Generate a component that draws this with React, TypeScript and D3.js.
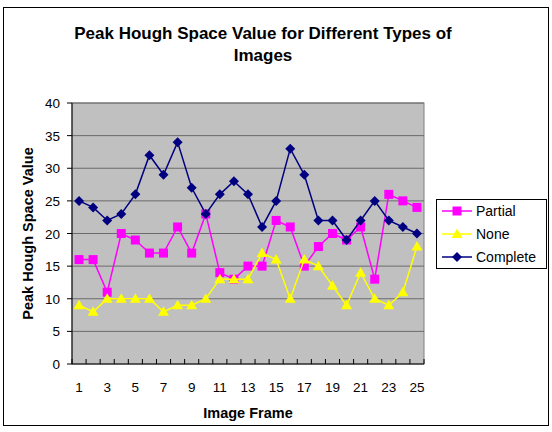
import React from "react";
import * as d3 from "d3";

const frames = d3.range(1, 26);
const partial = [16, 16, 11, 20, 19, 17, 17, 21, 17, 23, 14, 13, 15, 15, 22, 21, 15, 18, 20, 19, 21, 13, 26, 25, 24];
const none = [9, 8, 10, 10, 10, 10, 8, 9, 9, 10, 13, 13, 13, 17, 16, 10, 16, 15, 12, 9, 14, 10, 9, 11, 18];
const complete = [25, 24, 22, 23, 26, 32, 29, 34, 27, 23, 26, 28, 26, 21, 25, 33, 29, 22, 22, 19, 22, 25, 22, 21, 20];
const yTicks = [0, 5, 10, 15, 20, 25, 30, 35, 40];
const xLabels = [1, 3, 5, 7, 9, 11, 13, 15, 17, 19, 21, 23, 25];

const series = [
  { name: "Partial", values: partial, color: "#FF00FF", marker: "square" },
  { name: "None", values: none, color: "#FFFF00", marker: "triangle" },
  { name: "Complete", values: complete, color: "#000080", marker: "diamond" },
];

const font = "'Liberation Sans', Arial, sans-serif";

function Marker({ type, x, y, color }: { type: string; x: number; y: number; color: string }) {
  if (type === "square") return <rect x={x - 4.5} y={y - 4.5} width={9} height={9} fill={color} />;
  if (type === "triangle")
    return <path d={`M${x},${y - 5.5}L${x + 5.5},${y + 4}L${x - 5.5},${y + 4}Z`} fill={color} />;
  return <path d={`M${x},${y - 5}L${x + 5},${y}L${x},${y + 5}L${x - 5},${y}Z`} fill={color} />;
}

export default function App() {
  const W = 552, H = 432;
  const left = 72, right = 424, top = 103, bottom = 364;
  const x = d3.scaleBand<number>().domain(frames).range([left, right]);
  const y = d3.scaleLinear().domain([0, 40]).range([bottom, top]);
  const cx = (f: number) => (x(f) as number) + x.bandwidth() / 2;
  const line = d3.line<number>().x((_, i) => cx(frames[i])).y((v) => y(v));

  return (
    <svg width={W} height={H} style={{ position: "absolute", left: 0, top: 0 }} fontFamily={font}>
      <rect x={0} y={0} width={W} height={H} fill="#fff" />
      <rect x={3.5} y={7.5} width={545} height={418} fill="#fff" stroke="#000" strokeWidth={1} />
      <text x={263} y={39} textAnchor="middle" fontSize={17} fontWeight="bold">
        Peak Hough Space Value for Different Types of
      </text>
      <text x={263} y={61} textAnchor="middle" fontSize={17} fontWeight="bold">
        Images
      </text>
      <rect x={left} y={top} width={right - left} height={bottom - top} fill="#C0C0C0" stroke="#808080" />
      {yTicks.map((t) => (
        <g key={t}>
          {t > 0 && <line x1={left} x2={right} y1={y(t)} y2={y(t)} stroke="#6b6b6b" strokeWidth={1} />}
          <line x1={left - 5} x2={left} y1={y(t)} y2={y(t)} stroke="#000" />
          <text x={left - 12} y={y(t) + 5} textAnchor="end" fontSize={13.5}>
            {t}
          </text>
        </g>
      ))}
      <line x1={left} x2={left} y1={top} y2={bottom} stroke="#000" />
      <line x1={left} x2={right} y1={bottom} y2={bottom} stroke="#000" />
      {frames.concat([26]).map((f, i) => {
        const xx = left + i * x.step();
        return <line key={f} x1={xx} x2={xx} y1={bottom} y2={bottom - 5} stroke="#000" />;
      })}
      {xLabels.map((f) => (
        <text key={f} x={cx(f)} y={bottom + 28} textAnchor="middle" fontSize={13.5}>
          {f}
        </text>
      ))}
      <text x={248} y={418} textAnchor="middle" fontSize={14.5} fontWeight="bold">
        Image Frame
      </text>
      <text transform={`translate(33,${(top + bottom) / 2}) rotate(-90)`} textAnchor="middle" fontSize={14.5} fontWeight="bold">
        Peak Hough Space Value
      </text>
      {series.map((s) => (
        <g key={s.name}>
          <path d={line(s.values) || ""} fill="none" stroke={s.color} strokeWidth={1.5} />
          {s.values.map((v, i) => (
            <Marker key={i} type={s.marker} x={cx(frames[i])} y={y(v)} color={s.color} />
          ))}
        </g>
      ))}
      <rect x={436.5} y={199.5} width={110} height={69} fill="#fff" stroke="#000" />
      {series.map((s, i) => {
        const ly = 211 + i * 23;
        return (
          <g key={s.name}>
            <line x1={442} x2={472} y1={ly} y2={ly} stroke={s.color} strokeWidth={1.5} />
            <Marker type={s.marker} x={457} y={ly} color={s.color} />
            <text x={476} y={ly + 5} fontSize={14}>
              {s.name}
            </text>
          </g>
        );
      })}
    </svg>
  );
}
